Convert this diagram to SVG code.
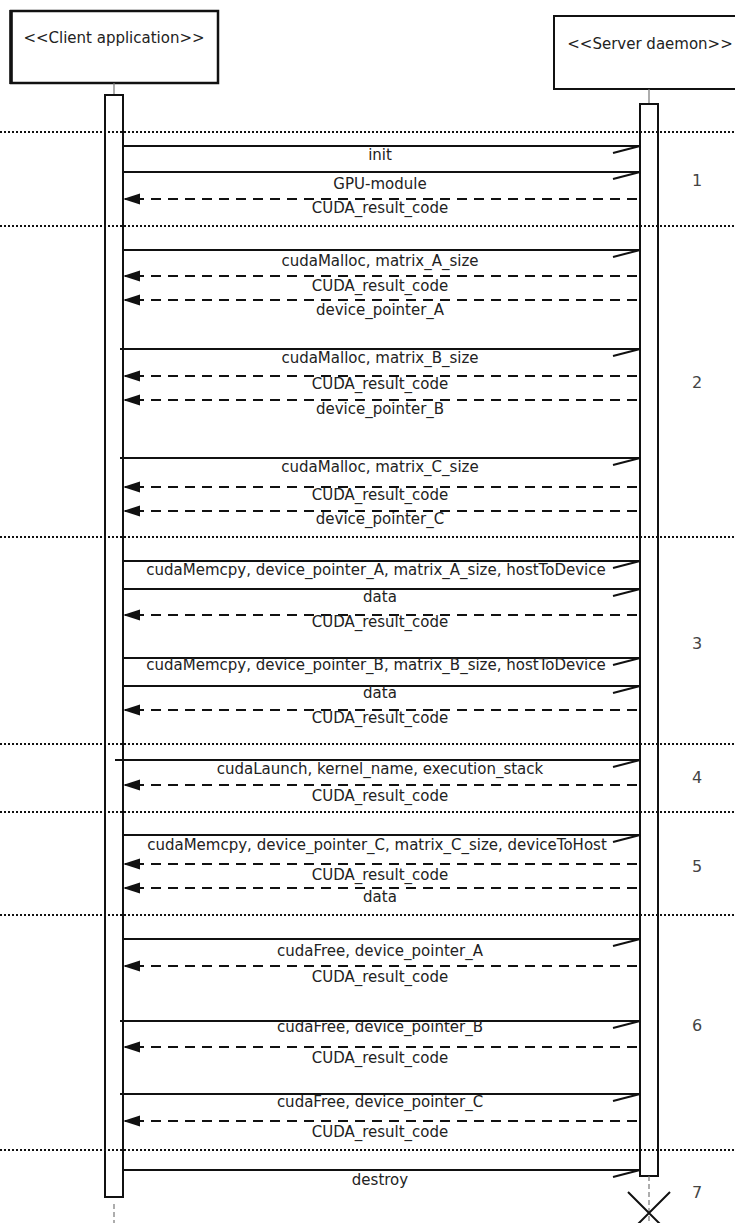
<svg xmlns="http://www.w3.org/2000/svg" width="735" height="1223" viewBox="0 0 735 1223">
<style>
text{font-family:"DejaVu Sans","Liberation Sans",sans-serif;font-size:15px;fill:#222}
.lbl{text-anchor:middle}
.num{font-size:16px;text-anchor:middle;fill:#444}
.sep{stroke:#111;stroke-width:2;stroke-dasharray:2 2;fill:none}
.call{stroke:#111;stroke-width:2;fill:none;marker-end:url(#half)}
.ret{stroke:#111;stroke-width:2;fill:none;stroke-dasharray:10 7;marker-end:url(#tri)}
.act{fill:#fff;stroke:#111;stroke-width:2}
.life{stroke:#777;stroke-width:1.2;fill:none}
.tail{stroke:#777;stroke-width:1.2;fill:none;stroke-dasharray:5 3}
</style>
<defs>
<marker id="half" markerUnits="userSpaceOnUse" markerWidth="30" markerHeight="12" refX="0" refY="0" orient="auto" overflow="visible">
<path d="M0,0 L-27,7" stroke="#111" stroke-width="2" fill="none"/>
</marker>
<marker id="tri" markerUnits="userSpaceOnUse" markerWidth="20" markerHeight="12" refX="0" refY="0" orient="auto" overflow="visible">
<path d="M2,0 L-15,-5.5 L-15,5.5 Z" fill="#111" stroke="none"/>
</marker>
</defs>
<rect width="735" height="1223" fill="#fff"/>

<g id="client">
<rect x="11" y="11" width="207" height="72" fill="#fff" stroke="#111" stroke-width="2.5"/>
<line x1="11" y1="10" x2="11" y2="84" stroke="#111" stroke-width="3.5"/>
<text x="114" y="43" class="lbl">&lt;&lt;Client application&gt;&gt;</text>
<line class="life" x1="114" y1="83" x2="114" y2="95"/>
<rect class="act" x="105" y="95" width="18" height="1102"/>
<line class="tail" x1="114" y1="1204" x2="114" y2="1223"/>
</g>

<g id="server">
<rect x="554" y="16" width="190" height="73" fill="#fff" stroke="#111" stroke-width="2"/>
<text x="650" y="49" class="lbl">&lt;&lt;Server daemon&gt;&gt;</text>
<line class="life" x1="649" y1="89" x2="649" y2="104"/>
<rect class="act" x="640" y="104" width="18" height="1072"/>
<line class="tail" x1="649" y1="1176" x2="649" y2="1223"/>
<path d="M628,1192 L670,1234 M670,1192 L628,1234" stroke="#111" stroke-width="2" fill="none"/>
</g>

<g id="separators">
<line class="sep" x1="0" y1="132" x2="735" y2="132"/>
<line class="sep" x1="0" y1="226" x2="735" y2="226"/>
<line class="sep" x1="0" y1="537" x2="735" y2="537"/>
<line class="sep" x1="0" y1="744" x2="735" y2="744"/>
<line class="sep" x1="0" y1="812" x2="735" y2="812"/>
<line class="sep" x1="0" y1="915" x2="735" y2="915"/>
<line class="sep" x1="0" y1="1150" x2="735" y2="1150"/>
</g>

<g id="connectors">
<line class="call" x1="123" y1="146" x2="640" y2="146"/>
<line class="call" x1="123" y1="172" x2="640" y2="172"/>
<line class="ret" x1="637" y1="199" x2="125" y2="199"/>

<line class="call" x1="123" y1="250" x2="640" y2="250"/>
<line class="ret" x1="637" y1="276" x2="125" y2="276"/>
<line class="ret" x1="637" y1="300" x2="125" y2="300"/>
<line class="call" x1="120" y1="349" x2="640" y2="349"/>
<line class="ret" x1="637" y1="376" x2="125" y2="376"/>
<line class="ret" x1="637" y1="400" x2="125" y2="400"/>
<line class="call" x1="120" y1="458" x2="640" y2="458"/>
<line class="ret" x1="637" y1="487" x2="125" y2="487"/>
<line class="ret" x1="637" y1="511" x2="125" y2="511"/>

<line class="call" x1="123" y1="561" x2="640" y2="561"/>
<line class="call" x1="123" y1="589" x2="640" y2="589"/>
<line class="ret" x1="637" y1="615" x2="125" y2="615"/>
<line class="call" x1="123" y1="658" x2="640" y2="658"/>
<line class="call" x1="123" y1="686" x2="640" y2="686"/>
<line class="ret" x1="637" y1="710" x2="125" y2="710"/>

<line class="call" x1="115" y1="760" x2="640" y2="760"/>
<line class="ret" x1="637" y1="785" x2="125" y2="785"/>

<line class="call" x1="123" y1="835" x2="640" y2="835"/>
<line class="ret" x1="637" y1="864" x2="125" y2="864"/>
<line class="ret" x1="637" y1="888" x2="125" y2="888"/>

<line class="call" x1="123" y1="939" x2="640" y2="939"/>
<line class="ret" x1="637" y1="966" x2="125" y2="966"/>
<line class="call" x1="120" y1="1021" x2="640" y2="1021"/>
<line class="ret" x1="637" y1="1047" x2="125" y2="1047"/>
<line class="call" x1="120" y1="1094" x2="640" y2="1094"/>
<line class="ret" x1="637" y1="1121" x2="125" y2="1121"/>

<line class="call" x1="123" y1="1170" x2="640" y2="1170"/>
</g>

<g id="labels">
<text class="lbl" x="380" y="160">init</text>
<text class="lbl" x="380" y="189">GPU-module</text>
<text class="lbl" x="380" y="213">CUDA_result_code</text>
<text class="lbl" x="380" y="266">cudaMalloc, matrix_A_size</text>
<text class="lbl" x="380" y="291">CUDA_result_code</text>
<text class="lbl" x="380" y="315">device_pointer_A</text>
<text class="lbl" x="380" y="363">cudaMalloc, matrix_B_size</text>
<text class="lbl" x="380" y="389">CUDA_result_code</text>
<text class="lbl" x="380" y="414">device_pointer_B</text>
<text class="lbl" x="380" y="472">cudaMalloc, matrix_C_size</text>
<text class="lbl" x="380" y="500">CUDA_result_code</text>
<text class="lbl" x="380" y="524">device_pointer_C</text>
<text class="lbl" x="376" y="575">cudaMemcpy, device_pointer_A, matrix_A_size, hostToDevice</text>
<text class="lbl" x="380" y="602">data</text>
<text class="lbl" x="380" y="627">CUDA_result_code</text>
<text class="lbl" x="376" y="670">cudaMemcpy, device_pointer_B, matrix_B_size, hostToDevice</text>
<text class="lbl" x="380" y="698">data</text>
<text class="lbl" x="380" y="723">CUDA_result_code</text>
<text class="lbl" x="380" y="774">cudaLaunch, kernel_name, execution_stack</text>
<text class="lbl" x="380" y="801">CUDA_result_code</text>
<text class="lbl" x="377" y="850">cudaMemcpy, device_pointer_C, matrix_C_size, deviceToHost</text>
<text class="lbl" x="380" y="880">CUDA_result_code</text>
<text class="lbl" x="380" y="902">data</text>
<text class="lbl" x="380" y="956">cudaFree, device_pointer_A</text>
<text class="lbl" x="380" y="982">CUDA_result_code</text>
<text class="lbl" x="380" y="1032">cudaFree, device_pointer_B</text>
<text class="lbl" x="380" y="1063">CUDA_result_code</text>
<text class="lbl" x="380" y="1107">cudaFree, device_pointer_C</text>
<text class="lbl" x="380" y="1137">CUDA_result_code</text>
<text class="lbl" x="380" y="1185">destroy</text>
</g>

<g id="sections">
<text class="num" x="697" y="186">1</text>
<text class="num" x="697" y="388">2</text>
<text class="num" x="697" y="649">3</text>
<text class="num" x="697" y="783">4</text>
<text class="num" x="697" y="872">5</text>
<text class="num" x="697" y="1031">6</text>
<text class="num" x="697" y="1198">7</text>
</g>
</svg>
